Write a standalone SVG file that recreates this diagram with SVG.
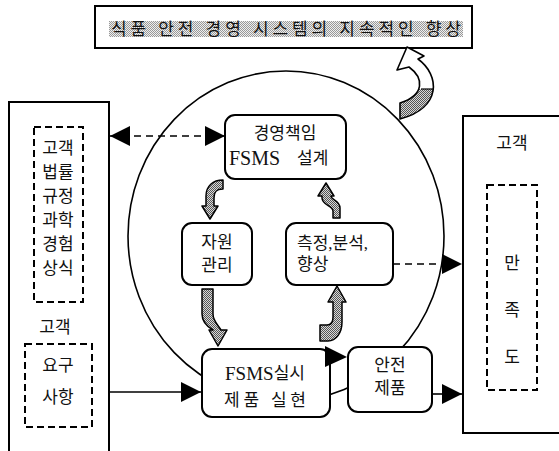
<svg xmlns="http://www.w3.org/2000/svg" width="559" height="451" viewBox="0 0 559 451">
<style>
text{font-family:"Liberation Serif","Noto Sans CJK KR",serif;font-size:17px;fill:#111;dominant-baseline:central;}
.c{text-anchor:middle;}
.box{fill:#fff;stroke:#000;stroke-width:2;}
.rbox{fill:#fff;stroke:#000;stroke-width:2;}
.dbox{fill:none;stroke:#000;stroke-width:2;stroke-dasharray:7 4;}
.dline{fill:none;stroke:#000;stroke-width:1.6;stroke-dasharray:7 5;}
.line{fill:none;stroke:#000;stroke-width:1.6;}
.blk{fill:url(#ht);stroke:#000;stroke-width:1.5;stroke-linejoin:round;}
.lat{font-size:20px;}
</style>
<defs>
<pattern id="ht" width="2" height="2" patternUnits="userSpaceOnUse"><rect width="2" height="2" fill="#d8d8d8"/><rect width="1" height="1" fill="#555"/><rect x="1" y="1" width="1" height="1" fill="#555"/></pattern>
<pattern id="ht2" width="2" height="2" patternUnits="userSpaceOnUse"><rect width="2" height="2" fill="#eee"/><rect width="1" height="1" fill="#999"/><rect x="1" y="1" width="1" height="1" fill="#999"/></pattern>
<marker id="ah" viewBox="0 0 10 10" refX="10" refY="5" markerWidth="20" markerHeight="20" markerUnits="userSpaceOnUse" orient="auto-start-reverse"><path d="M0,0 L10,5 L0,10 Z" fill="#000"/></marker>
<clipPath id="lower"><rect x="380" y="89" width="80" height="40"/></clipPath>
</defs>

<ellipse cx="286" cy="236" rx="158" ry="165" fill="none" stroke="#000" stroke-width="1.6"/>

<g id="title">
<rect class="box" x="95" y="6" width="377" height="42"/>
<rect x="109" y="21" width="354" height="16" fill="url(#ht2)"/>
<text class="c" x="286" y="29" textLength="350" lengthAdjust="spacing">식품 안전 경영 시스템의 지속적인 향상</text>
</g>

<g id="improve-arrow">
<path d="M407,47 L424,56 L418,59 C440,75 442,108 400,119 L400,103 C425,95 424,78 409,67 L397,70 Z" fill="#fff"/>
<path d="M407,47 L424,56 L418,59 C440,75 442,108 400,119 L400,103 C425,95 424,78 409,67 L397,70 Z" fill="url(#ht)" clip-path="url(#lower)"/>
<line x1="421" y1="89" x2="434" y2="89" stroke="#000" stroke-width="1.2"/>
<path d="M407,47 L424,56 L418,59 C440,75 442,108 400,119 L400,103 C425,95 424,78 409,67 L397,70 Z" fill="none" stroke="#000" stroke-width="1.6" stroke-linejoin="round"/>
</g>

<g id="left-box">
<rect class="box" x="9" y="102" width="100" height="360"/>
<rect class="dbox" x="34" y="127" width="49" height="175"/>
<text class="c" x="58" y="148">고객</text>
<text class="c" x="58" y="172">법률</text>
<text class="c" x="58" y="196">규정</text>
<text class="c" x="58" y="220">과학</text>
<text class="c" x="58" y="244">경험</text>
<text class="c" x="58" y="268">상식</text>
<text class="c" x="55" y="327">고객</text>
<rect class="dbox" x="25" y="344" width="67" height="83"/>
<text class="c" x="58" y="365">요구</text>
<text class="c" x="58" y="397">사항</text>
</g>

<g id="right-box">
<rect class="box" x="463" y="116" width="110" height="317"/>
<text class="c" x="512" y="143">고객</text>
<rect class="dbox" x="487" y="185" width="50" height="205"/>
<text class="c" x="512" y="263">만</text>
<text class="c" x="512" y="310">족</text>
<text class="c" x="512" y="357">도</text>
</g>

<g id="design">
<rect class="rbox" x="225" y="115" width="121" height="64" rx="10"/>
<text class="c" x="285" y="133">경영책임</text>
<text class="lat" x="229" y="158">FSMS</text>
<text x="297" y="158">설계</text>
</g>

<g id="resource">
<rect class="rbox" x="182" y="223" width="70" height="62" rx="10"/>
<text class="c" x="217" y="242">자원</text>
<text class="c" x="217" y="265">관리</text>
</g>

<g id="measure">
<rect class="rbox" x="286" y="223" width="107" height="62" rx="10"/>
<text x="297" y="243">측정,분석,</text>
<text x="297" y="264">향상</text>
</g>

<g id="realize">
<rect class="rbox" x="202" y="349" width="128" height="68" rx="10"/>
<text class="c" x="265" y="373"><tspan font-size="19">FSMS</tspan>실시</text>
<text class="c" x="265" y="400" textLength="82" lengthAdjust="spacing">제품 실현</text>
</g>

<g id="safe-product">
<rect class="rbox" x="348" y="347" width="84" height="65" rx="10"/>
<text class="c" x="390" y="365">안전</text>
<text class="c" x="390" y="388">제품</text>
</g>

<g id="connectors">
<line class="dline" x1="110" y1="136" x2="225" y2="136" marker-start="url(#ah)" marker-end="url(#ah)"/>
<line class="dline" x1="393" y1="264" x2="462" y2="264" marker-end="url(#ah)"/>
<line class="line" x1="109" y1="392" x2="201" y2="392" marker-end="url(#ah)"/>
<line class="line" x1="432" y1="394" x2="462" y2="394" marker-end="url(#ah)"/>
<polygon points="325,346 347,357 325,367" fill="#000"/>
<path class="blk" d="M223,180 L223,189 C216,189 214,192 214,198 L214,206 L218,206 L210,219 L202,206 L206,206 L206,196 C206,186 213,180 223,180 Z"/>
<path class="blk" d="M326,183 L334,196 L331,196 C331,200 340,200 340,208 L340,218 L333,218 L333,211 C333,206 322,205 322,198 L322,196 L318,196 Z"/>
<path class="blk" d="M202,289 L213,289 L213,314 C213,321 218,325 221,330 L227,330 L218,346 L209,330 L213,330 C206,326 202,321 202,314 Z"/>
<path class="blk" d="M337,286 L346,302 L342,302 L342,322 C342,333 336,341 328,341 L320,341 L320,325 L327,325 C331,325 333,322 333,317 L333,302 L328,302 Z"/>
</g>
</svg>
